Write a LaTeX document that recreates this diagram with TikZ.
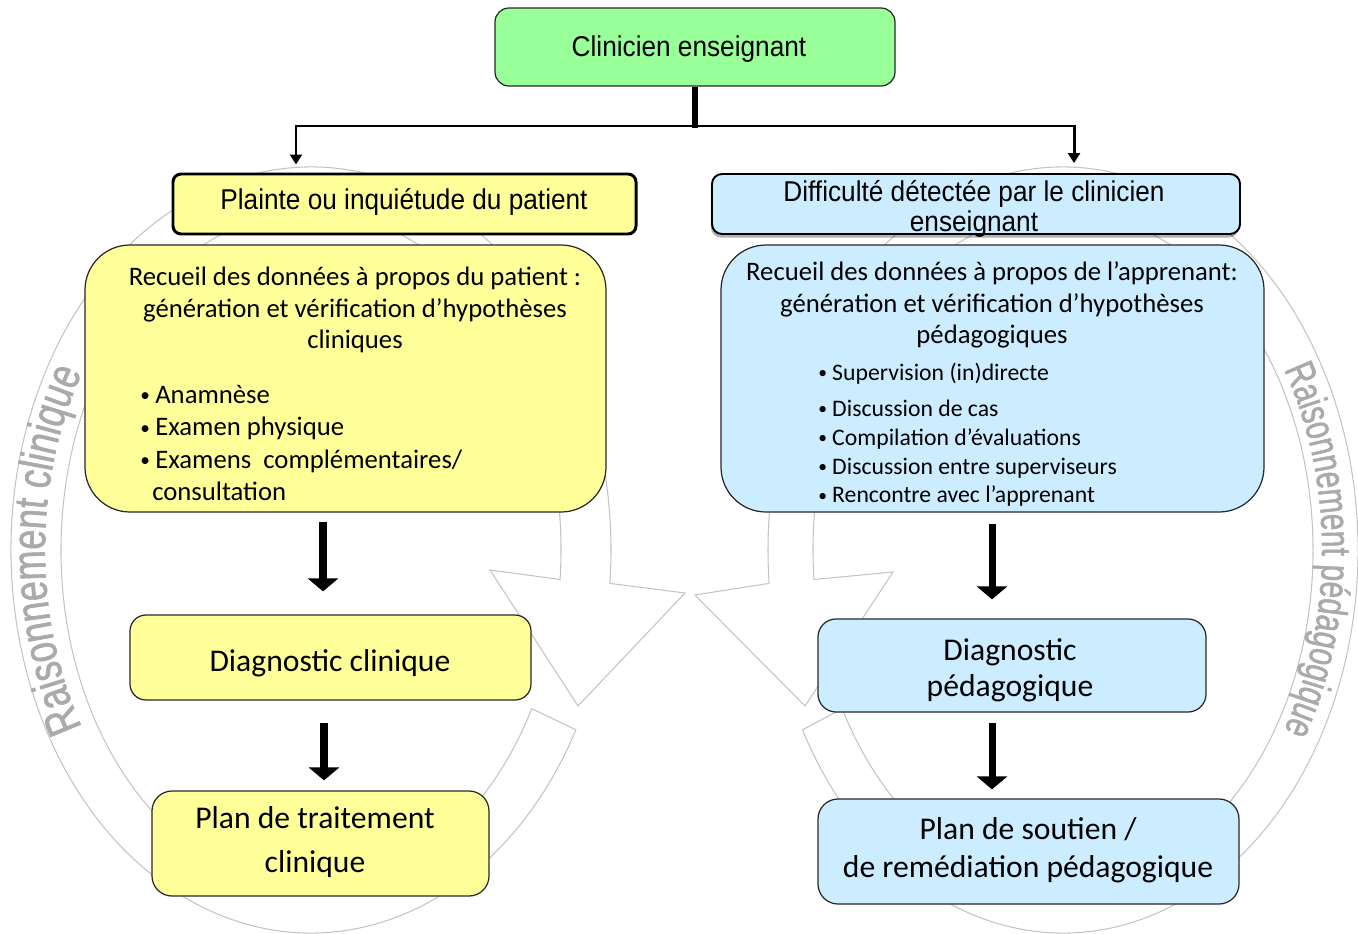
\documentclass[tikz,border=0pt]{standalone}
\usepackage{fontspec}
\setmainfont{Carlito}
\newfontfamily\arialf{Liberation Sans}[FakeStretch=0.915]
\newfontfamily\arcL{Liberation Sans}[FakeStretch=0.76, FakeBold=1.2]
\newfontfamily\arcR{Liberation Sans}[FakeStretch=0.72, FakeBold=1.2]
\usetikzlibrary{arrows.meta,decorations.text,fit,shadows,calc}
\definecolor{cgreen}{RGB}{153,255,153}
\definecolor{cyel}{RGB}{255,255,153}
\definecolor{cblue}{RGB}{204,236,255}
\definecolor{cring}{RGB}{196,196,196}
\definecolor{ctext}{RGB}{170,170,170}
\definecolor{cedge}{RGB}{40,40,40}
\newcommand{\bulA}{\makebox[8.5pt][l]{\raisebox{1.1pt}{\fontsize{11}{11}\selectfont•}}}
\newcommand{\bulB}{\makebox[7.9pt][l]{\raisebox{1pt}{\fontsize{10}{10}\selectfont•}}}
\tikzset{
  box/.style={draw=cedge, line width=0.7pt, inner sep=0pt},
  gbox/.style={box, fill=cgreen},
  ybox/.style={box, fill=cyel},
  bbox/.style={box, fill=cblue},
  ring/.style={draw=cring, line width=0.6pt, fill=white},
  lbl/.style={inner sep=0pt, align=center, text=black},
  hfont/.style={font=\arialf\fontsize{16.3}{17}\selectfont},
  bfont/.style={font=\fontsize{15.2}{18.1}\selectfont},
  big/.style={font=\fontsize{18}{22}\selectfont},
  stem/.style={line width=3.4pt},
  conn/.style={line width=1.7pt, -{Triangle[width=0.24cm,length=0.2cm]}},
  blk/.style={line width=4pt, -{Triangle[width=0.6cm,length=0.26cm]}},
}
\begin{document}
\begin{tikzpicture}[x=0.02cm, y=-0.02cm]
\useasboundingbox (0,0) rectangle (1358,933);
% background circular arrows
\path[ring] ([shift={(311,550)}]28:300 and 383) arc[start angle=28, end angle=365, x radius=300, y radius=383]
  -- (685,593) -- (578,706) -- (490,570)
  -- ([shift={(311,550)}]365:250 and 338) arc[start angle=365, end angle=28, x radius=250, y radius=338] -- cycle;
\path[ring] ([shift={(1063,550)}]152:295 and 383) arc[start angle=152, end angle=-185, x radius=295, y radius=383]
  -- (695,595) -- (805,706) -- (893,572)
  -- ([shift={(1063,550)}]-185:250 and 338) arc[start angle=-185, end angle=152, x radius=250, y radius=338] -- cycle;
% curved labels
\path[decorate, decoration={text along path, text align=center, text color=ctext,
  text={|\arcL\fontsize{27}{30}\selectfont|Raisonnement clinique}}]
  ([shift={(311,550)}]140:266 and 348) arc[start angle=140, end angle=220, x radius=266, y radius=348];
\path[decorate, decoration={text along path, text align=center, text color=ctext,
  text={|\arcR\fontsize{23.5}{26}\selectfont|Raisonnement pédagogique}}]
  ([shift={(1063,550)}]-40:259 and 346) arc[start angle=-40, end angle=40, x radius=259, y radius=346];
% boxes
\node[gbox, rounded corners=0.28cm, fit={(495,8) (895,86)}] (clin) {};
\node[ybox, line width=1.7pt, draw=black, rounded corners=0.16cm, fit={(173,174) (636,234)}] (plainte) {};
\node[bbox, line width=1.1pt, draw=black, rounded corners=0.2cm, fit={(712,174) (1240,234)},
  drop shadow={shadow xshift=-0.6pt, shadow yshift=-2pt, opacity=0.3, fill=black}] (diff) {};
\node[ybox, rounded corners=0.9cm, fit={(85,245) (606,512)}] (recP) {};
\node[bbox, rounded corners=0.9cm, fit={(721,245) (1264,512)}] (recA) {};
\node[ybox, rounded corners=0.32cm, fit={(130,615) (531,700)}] (diagC) {};
\node[ybox, rounded corners=0.4cm, fit={(152,791) (489,896)}] (planT) {};
\node[bbox, rounded corners=0.36cm, fit={(818,619) (1206,712)}] (diagP) {};
\node[bbox, rounded corners=0.4cm, fit={(818,799) (1239,904)}] (planS) {};
% texts
\node[lbl, hfont] (clinT) at (689,49) {Clinicien enseignant};
\node[lbl, hfont] (plainteT) at (404,202) {Plainte ou inquiétude du patient};
\node[lbl, font=\arialf\fontsize{16.3}{17}\selectfont] (diffT) at (974,209) {Difficulté détectée par le clinicien\\enseignant};
\node[lbl, bfont] (recPT) at (355,310) {Recueil des données à propos du patient :\\génération et vérification d’hypothèses\\cliniques};
\node[lbl, align=left, anchor=west, font=\fontsize{15.2}{18.3}\selectfont] (recPL) at (140,443)
  {\bulA Anamnèse\\\bulA Examen physique\\\bulA Examens\ \ complémentaires/\\\hspace{6.8pt}consultation};
\node[lbl, bfont] (recAT) at (992,305) {Recueil des données à propos de l’apprenant:\\génération et vérification d’hypothèses\\pédagogiques};
\node[lbl, align=left, anchor=west, font=\fontsize{13.5}{16.4}\selectfont] (recAL) at (818,435)
  {\bulB Supervision (in)directe\\[4pt]\bulB Discussion de cas\\\bulB Compilation d’évaluations\\\bulB Discussion entre superviseurs\\\bulB Rencontre avec l’apprenant};
\node[lbl, big] (diagCT) at (330,663) {Diagnostic clinique};
\node[lbl, font=\fontsize{18}{25}\selectfont] (planTT) at (315,842.5) {Plan de traitement\\clinique};
\node[lbl, font=\fontsize{18}{20.4}\selectfont] (diagPT) at (1010,670) {Diagnostic\\pédagogique};
\node[lbl, font=\fontsize{18}{21.5}\selectfont] (planST) at (1028,850) {Plan de soutien /\\de remédiation pédagogique};
% connectors
\coordinate (split) at (695,126);
\coordinate (xl) at (296,0);
\coordinate (xr) at (1074,0);
\coordinate (xa) at (323,0);
\coordinate (xb) at (324,0);
\coordinate (xc) at (992,0);
\draw[stem, shorten >=-0.03cm] (clin.south) -- (split);
\draw[conn, shorten >=0.16cm] (split) -| (plainte.north -| xl);
\draw[conn, shorten >=0.2cm] (split) -| (diff.north -| xr);
\draw[blk, shorten <=0.18cm, shorten >=0.46cm] (recP.south -| xa) -- (diagC.north -| xa);
\draw[blk, shorten <=0.44cm, shorten >=0.2cm] (diagC.south -| xb) -- (planT.north -| xb);
\draw[blk, shorten <=0.22cm, shorten >=0.38cm] (recA.south -| xc) -- (diagP.north -| xc);
\draw[blk, shorten <=0.2cm, shorten >=0.18cm] (diagP.south -| xc) -- (planS.north -| xc);
\end{tikzpicture}
\end{document}
